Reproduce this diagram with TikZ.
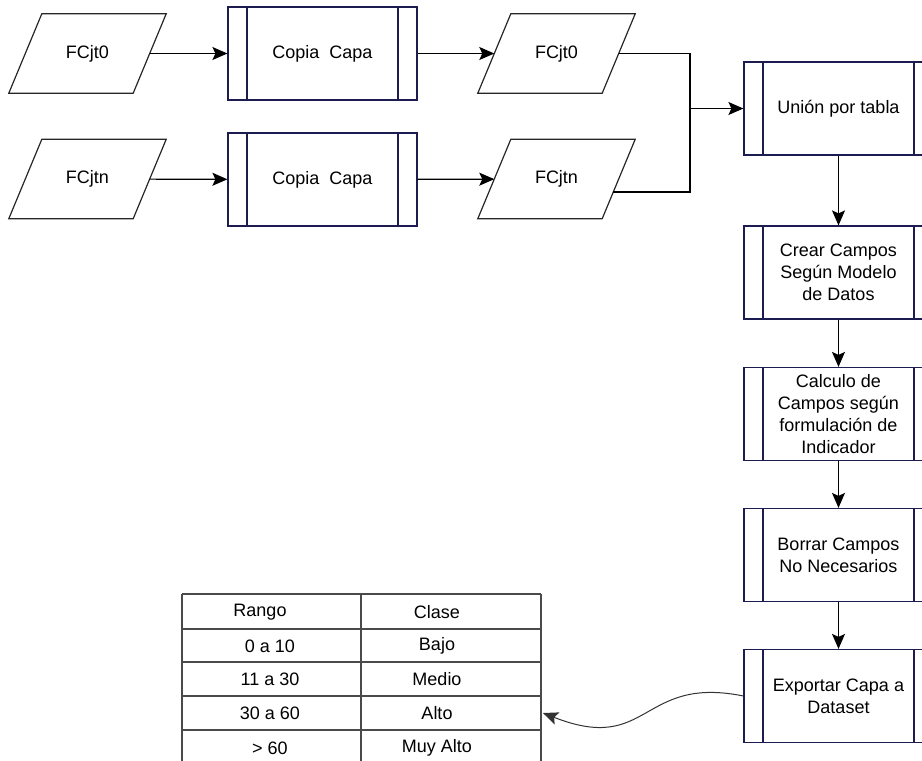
\documentclass[tikz,border=0pt]{standalone}
\usepackage{fontspec}
\setmainfont{Liberation Sans}
\usepackage{tikz}
\usetikzlibrary{arrows.meta}
\definecolor{boxline}{HTML}{1C1C50}
\definecolor{tabline}{HTML}{4A4A4A}

\begin{document}
\begin{tikzpicture}[x=1pt,y=-1pt,
    every node/.style={font=\fontsize{18}{22}\selectfont},
    datos/.style={minimum width=124pt, minimum height=79pt, inner sep=0pt,
        append after command={\pgfextra{\draw[black!85, line width=1.2pt]
            ([xshift=16.5pt]\tikzlastnode.north west) -- ([xshift=16.5pt]\tikzlastnode.north east)
            -- ([xshift=-16.5pt]\tikzlastnode.south east) -- ([xshift=-16.5pt]\tikzlastnode.south west) -- cycle;}}},
    proc/.style={draw=boxline, line width=1.2pt, minimum width=189pt, minimum height=93pt,
        align=center, inner sep=0pt,
        path picture={
            \draw[boxline, line width=1.2pt] ([xshift=19pt]path picture bounding box.north west) -- ([xshift=19pt]path picture bounding box.south west);
            \draw[boxline, line width=1.2pt] ([xshift=-19pt]path picture bounding box.north east) -- ([xshift=-19pt]path picture bounding box.south east);}},
    celda/.style={inner sep=0pt},
    flecha/.style={-{Stealth[length=15pt,width=13pt,inset=3pt]}}]
    \useasboundingbox (0,0) rectangle (922,761);
    \node[datos] (1) at (87.5,53.5) {FCjt0};
    \node[datos] (2) at (87.5,179) {FCjtn};
    \node[proc] (3) at (322.5,53.5) {Copia \ Capa};
    \node[proc] (4) at (322.5,179.5) {Copia \ Capa};
    \node[datos] (5) at (556.5,53.5) {FCjt0};
    \node[datos] (6) at (556.5,179) {FCjtn};

    \node[proc] (7) at (838.5,108.5) {Unión por tabla};
    \node[proc] (8) at (838.5,272.5) {Crear Campos\\Según Modelo\\de Datos};
    \node[proc] (9) at (838.5,414) {Calculo de\\Campos según\\formulación de\\Indicador};
    \node[proc] (10) at (838.5,555) {Borrar Campos\\No Necesarios};
    \node[proc] (11) at (838.5,696) {Exportar Capa a\\Dataset};
    \coordinate (m) at (690,108.5);

    % tabla
    \draw[tabline, line width=1.3pt] (182,594) -- (541,594) (182,629) -- (541,629) (182,662) -- (541,662)
        (182,696) -- (541,696) (182,730) -- (541,730)
        (182,594) -- (182,770) (361,594) -- (361,770) (541,594) -- (541,770);
    \node[celda] (12) at (260,612.5) {Rango};
    \node[celda] (13) at (437,612.5) {Clase};
    \node[celda] (14) at (270,646) {0 a 10};
    \node[celda] (15) at (437,646) {Bajo};
    \node[celda] (16) at (270,679.5) {11 a 30};
    \node[celda] (17) at (437,679.5) {Medio};
    \node[celda] (18) at (270,713.5) {30 a 60};
    \node[celda] (19) at (437,713.5) {Alto};
    \node[celda] (20) at (270,748) {> 60};
    \node[celda] (21) at (437,748) {Muy Alto};
    \coordinate (t) at (543,713);

    \path[flecha, black, line width=1.2pt]
    (1) edge (3)
    (2) edge (4)
    (3) edge (5)
    (4) edge (6)
    (m) edge (7)
    (7) edge (8)
    (8) edge (9)
    (9) edge (10)
    (10) edge (11);

    \draw[black, line width=1.2pt] (5.east) -| (m);
    \draw[black, line width=1.2pt] ([xshift=-5.4pt,yshift=-13pt]6.east) -| (m);
    \draw[flecha, black!80, line width=1pt]
        (11.west) .. controls (640,675) and (650,755) .. (t);
\end{tikzpicture}
\end{document}
